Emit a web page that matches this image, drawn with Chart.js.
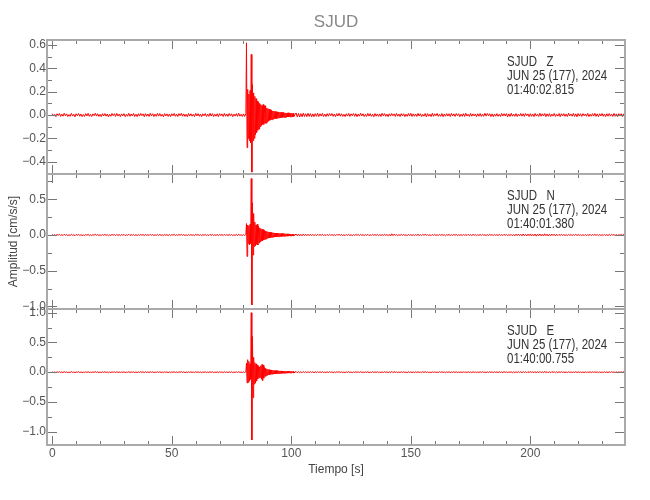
<!DOCTYPE html>
<html>
<head>
<meta charset="utf-8">
<title>SJUD</title>
<script src="https://cdn.jsdelivr.net/npm/chart.js@4.4.1/dist/chart.umd.min.js"></script>
<style>
  html, body { margin: 0; padding: 0; background: #fff; }
  canvas { display: block; }
</style>
</head>
<body>
<canvas id="seis" width="650" height="500"></canvas>
<script>
// sampling of the traces (s): quiet parts at 0.5 s, the event at 0.25 s
const dtSlow = 0.5, dtFast = 0.25;
const tPre0 = 0, tEvt0 = 81, tPost0 = 102;

// amplitudes in 0.001 cm/s/s
const zPre = [12,-9,6,-14,11,-5,13,-12,8,-10,
  15,-7,10,-13,4,-11,14,-9,7,-15,
  11,-6,13,-10,9,-14,5,-12,12,-8,
  14,-11,7,-13,10,-6,15,-9,11,-12,
  6,-14,12,-8,13,-10,9,-15,7,-11,
  13,-5,11,-12,14,-9,8,-13,10,-7,
  12,-14,6,-10,15,-11,9,-8,13,-12,
  7,-13,11,-9,14,-6,10,-14,12,-10,
  9,-12,15,-7,11,-13,8,-11,14,-9,
  13,-10,6,-15,12,-8,10,-12,9,-14,
  11,-7,14,-11,8,-13,12,-6,15,-10,
  10,-12,7,-14,13,-9,11,-10,6,-13,
  14,-8,12,-11,9,-15,10,-7,13,-12,
  8,-11,15,-9,12,-13,7,-10,11,-14,
  12,-6,10,-13,14,-10,9,-12,13,-8,
  11,-14,8,-9,12,-11,15,-10,7,-13,
  10,-12];
const zEvt = [12,620,-280,220,-200,180,-220,210,-240,520,
  -490,260,-220,190,-200,160,-170,140,-150,120,
  -130,110,-120,100,-100,90,-90,80,-80,90,
  -80,80,-70,80,-70,60,-60,55,-50,50,
  -45,45,-40,40,-40,35,-35,35,-30,30,
  -30,28,-30,27,-25,26,-24,25,-22,23,
  -22,21,-20,22,-20,19,-20,18,-19,18,
  -17,19,-17,16,-17,16,-15,16,-15,15,
  -14];
const zPost = [18,-16,14,-17,12,-15,16,-13,11,-14,
  15,-12,13,-16,10,-14,12,-11,15,-13,
  11,-9,14,-12,8,-13,12,-10,14,-7,
  13,-11,9,-14,12,-8,15,-10,11,-12,
  7,-13,11,-9,14,-12,10,-6,13,-11,
  12,-14,9,-10,15,-8,11,-13,6,-12,
  14,-9,12,-11,7,-15,13,-10,9,-12,
  10,-13,15,-7,12,-11,8,-14,11,-9,
  13,-6,10,-12,14,-10,9,-13,12,-8,
  11,-14,7,-11,13,-9,15,-12,10,-10,
  9,-12,14,-8,11,-13,6,-10,13,-15,
  12,-10,8,-13,15,-11,10,-7,14,-12,
  7,-11,13,-14,9,-10,12,-9,11,-13,
  14,-8,10,-12,13,-6,11,-14,8,-11,
  12,-13,15,-9,7,-12,14,-10,10,-8,
  9,-14,11,-10,13,-12,8,-11,15,-9,
  13,-7,12,-13,10,-14,9,-10,12,-11,
  6,-12,14,-9,11,-8,13,-15,10,-12,
  15,-10,8,-11,12,-13,7,-9,14,-10,
  11,-12,13,-6,10,-14,12,-11,9,-13,
  14,-9,7,-12,15,-10,11,-8,13,-14,
  10,-11,12,-13,8,-9,14,-12,6,-10,
  13,-14,11,-8,12,-11,9,-13,15,-7,
  8,-10,14,-12,10,-15,13,-9,11,-12,
  12,-7,9,-11,14,-13,7,-10,12,-9,
  15,-12,10,-14,11,-8,13,-11,9,-13,
  11,-10,13,-9,8,-12,14,-11,10,-14,
  12,-9,11,-13,10,-11];

const nPre = [8,-6,4,-9,7,-3,9,-8,5,-7,
  10,-5,6,-9,3,-7,9,-6,4,-10,
  7,-4,8,-6,5,-9,3,-8,7,-5,
  9,-7,4,-8,6,-4,11,-6,7,-8,
  4,-9,8,-5,9,-6,5,-10,4,-7,
  8,-3,7,-8,9,-6,5,-8,6,-4,
  8,-9,4,-6,10,-7,6,-5,8,-8,
  5,-8,7,-6,9,-4,6,-9,8,-6,
  6,-8,10,-5,7,-8,5,-7,9,-6,
  8,-6,4,-10,8,-5,6,-8,6,-9,
  7,-5,9,-7,5,-8,8,-4,10,-6,
  6,-8,5,-9,8,-6,7,-6,4,-8,
  9,-5,8,-7,6,-10,6,-5,8,-8,
  5,-7,10,-6,8,-8,4,-6,7,-9,
  8,-4,6,-8,9,-6,6,-8,8,-5,
  7,-9,5,-6,8,-7,10,-6,4,-8,
  6,-8];
const nEvt = [10,160,-300,140,-120,130,-140,150,-120,790,
  -980,450,-280,300,-160,180,-150,140,-130,150,
  -140,120,-110,100,-95,90,-85,80,-78,75,
  -70,65,-60,55,-55,50,-45,45,-42,40,
  -40,38,-35,35,-32,32,-30,30,-28,28,
  -27,26,-25,25,-24,24,-22,22,-21,21,
  -20,20,-19,19,-18,18,-17,17,-16,16,
  -16,15,-15,15,-14,14,-14,13,-13,13,
  -12];
const nPost = [13,-11,12,-12,10,-11,12,-9,11,-10,
  10,-9,11,-8,9,-10,8,-9,10,-7,
  8,-6,9,-8,5,-9,8,-7,9,-5,
  7,-8,5,-9,8,-5,10,-6,7,-8,
  4,-9,8,-6,9,-7,5,-10,6,-7,
  8,-4,7,-8,9,-6,5,-8,6,-5,
  9,-8,4,-7,10,-6,6,-5,8,-9,
  5,-8,7,-6,9,-4,6,-9,8,-14,
  17,-9,12,-6,7,-8,5,-7,9,-6,
  8,-6,4,-10,8,-5,6,-8,6,-9,
  7,-5,9,-7,5,-8,8,-4,10,-6,
  6,-8,5,-9,8,-6,7,-6,4,-8,
  9,-5,8,-7,6,-10,6,-5,8,-8,
  5,-7,10,-6,8,-8,4,-6,7,-9,
  8,-4,6,-8,9,-6,6,-8,8,-5,
  7,-9,5,-6,8,-7,10,-6,4,-8,
  6,-8,9,-5,7,-9,8,-6,5,-7,
  9,-7,6,-8,10,-5,7,-9,6,-6,
  8,-10,7,-12,11,-9,13,-8,10,-12,
  14,-11,9,-13,12,-10,15,-12,9,-11,
  13,-16,11,-9,14,-12,10,-13,16,-10,
  12,-14,9,-11,13,-8,11,-12,10,-9,
  8,-7,9,-6,7,-8,5,-9,8,-6,
  7,-8,6,-5,9,-7,8,-6,5,-8,
  6,-9,8,-7,5,-6,9,-8,7,-5,
  8,-6,7,-9,6,-7,5,-8,9,-6,
  5,-7,8,-6,9,-5,7,-8,6,-9,
  8,-6,7,-5,9,-7];

const ePre = [7,-5,3,-8,6,-4,8,-7,4,-6,
  9,-4,5,-8,3,-6,8,-5,4,-9,
  6,-3,7,-5,4,-8,3,-7,6,-4,
  8,-6,3,-7,5,-4,10,-5,6,-7,
  4,-8,7,-4,8,-5,4,-9,3,-6,
  7,-3,6,-7,8,-5,4,-7,5,-4,
  7,-8,3,-5,9,-6,5,-4,7,-7,
  4,-7,6,-5,8,-3,5,-8,7,-5,
  5,-7,9,-4,6,-7,4,-6,8,-5,
  7,-5,3,-9,7,-4,5,-7,5,-8,
  6,-4,8,-6,4,-7,7,-3,9,-5,
  5,-7,4,-8,7,-5,6,-5,3,-7,
  8,-4,7,-6,5,-9,5,-4,7,-7,
  4,-6,9,-5,7,-7,3,-5,6,-8,
  7,-3,5,-7,8,-5,5,-7,7,-4,
  6,-8,4,-5,7,-6,9,-5,3,-7,
  5,-7];
const eEvt = [10,150,-180,210,-170,180,-150,140,-120,1000,
  -1140,600,-430,250,-200,160,-180,140,-150,120,
  -110,100,-95,90,-85,110,-120,130,-140,120,
  -100,80,-70,65,-60,55,-50,48,-45,42,
  -40,38,-36,35,-33,32,-30,30,-28,28,
  -27,26,-25,25,-24,23,-22,22,-21,21,
  -20,20,-19,19,-18,18,-17,17,-17,16,
  -16,15,-15,15,-14,14,-14,13,-13,13,
  -12];
const ePost = [11,-10,10,-11,9,-10,11,-8,10,-9,
  9,-8,10,-7,8,-9,7,-8,9,-6,
  7,-5,8,-7,4,-8,7,-6,8,-4,
  6,-7,4,-8,7,-4,9,-5,6,-7,
  3,-8,7,-5,8,-6,4,-9,5,-6,
  7,-3,6,-7,8,-5,4,-7,5,-4,
  8,-7,3,-6,9,-5,5,-4,7,-8,
  4,-7,6,-5,8,-3,5,-8,7,-11,
  13,-8,10,-5,6,-7,4,-6,8,-5,
  7,-5,3,-9,7,-4,5,-7,5,-8,
  6,-4,8,-6,4,-7,7,-3,9,-5,
  5,-7,4,-8,7,-5,6,-5,3,-7,
  8,-4,7,-6,5,-9,5,-4,7,-7,
  4,-6,9,-5,7,-7,3,-5,6,-8,
  7,-3,5,-7,8,-5,5,-7,7,-4,
  6,-8,4,-5,7,-6,9,-5,3,-7,
  5,-7,8,-4,6,-8,7,-5,4,-6,
  8,-6,5,-7,9,-4,6,-8,5,-5,
  7,-9,6,-10,9,-8,11,-7,9,-10,
  12,-9,8,-11,10,-9,13,-10,8,-9,
  11,-14,9,-8,12,-10,9,-11,14,-9,
  10,-12,8,-10,11,-7,9,-10,8,-8,
  7,-6,8,-5,6,-7,4,-8,7,-5,
  6,-7,5,-4,8,-6,7,-5,4,-7,
  5,-8,7,-6,4,-5,8,-7,6,-4,
  7,-5,6,-8,5,-6,4,-7,8,-5,
  4,-6,7,-5,8,-4,6,-7,5,-8,
  7,-5,6,-4,8,-6];

// axes
const xRange = [-2.2, 239.6];
const xMajor = [0, 50, 100, 150, 200];
const xMinor = [10,20,30,40,60,70,80,90,110,120,130,140,160,170,180,190,210,220,230];

const zRange = [-0.506, 0.644];
const zMajor = [-0.4, -0.2, 0, 0.2, 0.4, 0.6];
const zMinor = [-0.5, -0.3, -0.1, 0.1, 0.3, 0.5];
const nRange = [-1.036, 0.854];
const nMajor = [-1.0, -0.5, 0, 0.5];
const nMinor = [-0.75, -0.25, 0.25, 0.75];
const eRange = [-1.225, 1.063];
const eMajor = [-1.0, -0.5, 0, 0.5, 1.0];
const eMinor = [-0.75, -0.25, 0.25, 0.75];

const station = 'SJUD';
const components = ['Z', 'N', 'E'];
const dateLine = 'JUN 25 (177), 2024';
const startTimes = ['01:40:02.815', '01:40:01.380', '01:40:00.755'];

const FONT = "'Liberation Sans', Arial, sans-serif";

function buildTrace(pre, evt, post) {
  const pts = [];
  pre.forEach((v, i) => pts.push({ x: tPre0 + i * dtSlow, y: v / 1000 }));
  evt.forEach((v, i) => pts.push({ x: tEvt0 + i * dtFast, y: v / 1000 }));
  post.forEach((v, i) => pts.push({ x: tPost0 + i * dtSlow, y: v / 1000 }));
  return pts;
}

function fmt(v) {
  return (v < 0 ? '\u2212' : '') + Math.abs(v).toFixed(1);
}

function yAxis(range, major, weight, title) {
  return {
    type: 'linear',
    position: 'left',
    stack: 'amp',
    stackWeight: weight,
    min: range[0],
    max: range[1],
    grid: { display: false, drawTicks: false },
    border: { display: false },
    ticks: { autoSkip: false, padding: 1, color: '#555', font: { family: FONT, size: 12 }, callback: fmt },
    title: title ? { display: true, text: title, color: '#444', font: { family: FONT, size: 12 }, padding: { top: 6.8, bottom: 0 } } : { display: false },
    afterBuildTicks: s => { s.ticks = major.map(v => ({ value: v })); },
    afterFit: s => { s.width = 47; }
  };
}

const panels = [
  { id: 'yZ', major: zMajor, minor: zMinor },
  { id: 'yN', major: nMajor, minor: nMinor },
  { id: 'yE', major: eMajor, minor: eMinor }
];

// box round each panel, inward ticks, station text (narrow like the original)
const frameAndTicks = {
  id: 'frameAndTicks',
  afterDraw(chart) {
    const { ctx, chartArea: ca, scales } = chart;
    const x = scales.x;
    ctx.save();
    panels.forEach((p, i) => {
      const s = scales[p.id];
      ctx.strokeStyle = '#777';
      ctx.lineWidth = 1;
      ctx.beginPath();
      const xt = (v, len) => {
        const px = Math.round(x.getPixelForValue(v)) + 0.5;
        ctx.moveTo(px, s.top); ctx.lineTo(px, s.top + len);
        ctx.moveTo(px, s.bottom); ctx.lineTo(px, s.bottom - len);
      };
      xMajor.forEach(v => xt(v, 9));
      xMinor.forEach(v => xt(v, 4));
      const yt = (v, len) => {
        const py = Math.round(s.getPixelForValue(v)) + 0.5;
        ctx.moveTo(ca.left, py); ctx.lineTo(ca.left + len, py);
        ctx.moveTo(ca.right, py); ctx.lineTo(ca.right - len, py);
      };
      p.major.forEach(v => yt(v, 10));
      p.minor.forEach(v => yt(v, 5));
      ctx.stroke();

      ctx.strokeStyle = '#aaa';
      ctx.lineWidth = 2;
      ctx.strokeRect(ca.left, s.top, ca.right - ca.left, s.bottom - s.top);

      ctx.save();
      ctx.fillStyle = '#333';
      ctx.font = '14px ' + FONT;
      ctx.textAlign = 'left';
      ctx.textBaseline = 'middle';
      ctx.translate(ca.right - 118, s.top);
      ctx.scale(0.82, 1);
      ctx.fillText(station + '   ' + components[i], 0, 22);
      ctx.fillText(dateLine, 0, 36);
      ctx.fillText(startTimes[i], 0, 50);
      ctx.restore();
    });
    ctx.restore();
  }
};

const traceStyle = { borderColor: '#ff0000', borderWidth: 1, pointRadius: 0, tension: 0, fill: false };

new Chart(document.getElementById('seis'), {
  type: 'line',
  data: {
    datasets: [
      { ...traceStyle, data: buildTrace(zPre, zEvt, zPost), yAxisID: 'yZ' },
      { ...traceStyle, data: buildTrace(nPre, nEvt, nPost), yAxisID: 'yN' },
      { ...traceStyle, data: buildTrace(ePre, eEvt, ePost), yAxisID: 'yE' }
    ]
  },
  options: {
    responsive: false,
    animation: false,
    layout: { padding: { top: 0, right: 25, bottom: 0, left: 0 } },
    plugins: {
      legend: { display: false },
      tooltip: { enabled: false },
      title: {
        display: true, text: station, fullSize: false, color: '#888',
        font: { family: FONT, size: 17, weight: 'normal' },
        padding: { top: 12, bottom: 7.6 }
      }
    },
    scales: {
      x: {
        type: 'linear',
        position: 'bottom',
        min: xRange[0],
        max: xRange[1],
        grid: { display: false, drawTicks: false },
        border: { display: false },
        ticks: { autoSkip: false, maxRotation: 0, padding: 1, color: '#555', font: { family: FONT, size: 12 } },
        title: { display: true, text: 'Tiempo [s]', color: '#444', font: { family: FONT, size: 12 }, padding: { top: 4, bottom: 22.8 } },
        afterBuildTicks: s => { s.ticks = xMajor.map(v => ({ value: v })); },
        afterFit: s => { s.height = 55; }
      },
      yE: yAxis(eRange, eMajor, 136),
      yN: yAxis(nRange, nMajor, 135, 'Amplitud [cm/s/s]'),
      yZ: yAxis(zRange, zMajor, 134)
    }
  },
  plugins: [frameAndTicks]
});
</script>
</body>
</html>
